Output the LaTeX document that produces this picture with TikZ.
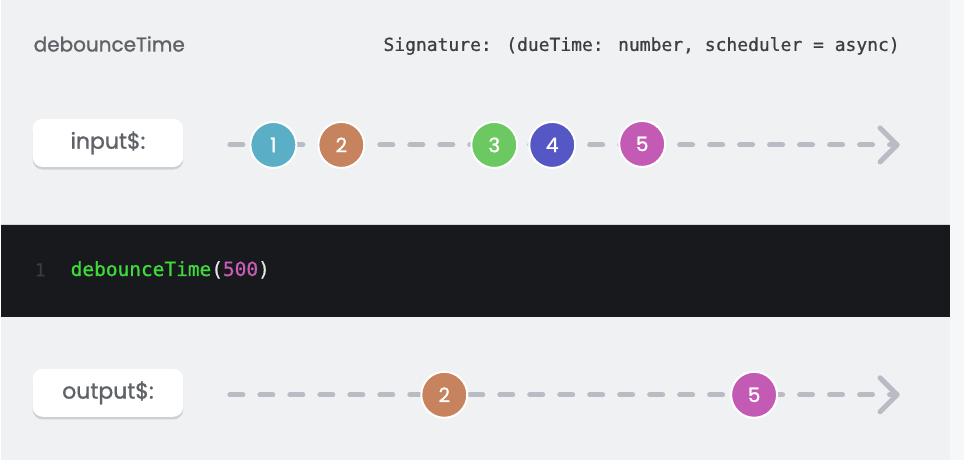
\documentclass[tikz,border=0pt]{standalone}
\usepackage{fontspec}
\setmainfont{Poppins}[FakeBold=1.2, AutoFakeBold=1.2]
\setmonofont{DejaVu Sans Mono}
\newfontfamily\codefont{DejaVu Sans Mono}[FakeBold=0.8]
\usetikzlibrary{arrows.meta}
\definecolor{bggray}{HTML}{EFF1F3}
\definecolor{edgegray}{HTML}{F6F7F8}
\definecolor{bargray}{HTML}{B9BCC4}
\definecolor{txtgray}{HTML}{5F6368}
\definecolor{sigtxt}{HTML}{3C4043}
\definecolor{codebg}{HTML}{18191D}
\definecolor{codegreen}{HTML}{3FDB3C}
\definecolor{codepink}{HTML}{C65DB6}
\definecolor{lineno}{HTML}{3A3C41}
\definecolor{mOne}{HTML}{5AAFC7}
\definecolor{mTwo}{HTML}{C7825E}
\definecolor{mThree}{HTML}{6CC860}
\definecolor{mFour}{HTML}{5558C4}
\definecolor{mFive}{HTML}{C35BB4}
\tikzset{
    tline/.style={line width=3.75pt, bargray, line cap=round, dash pattern=on 9.75pt off 12.75pt},
    chev/.style={line width=3.75pt, bargray, line cap=round, line join=round},
    namebox/.style={fill=white, rounded corners=7.5pt, minimum width=113pt, minimum height=36pt,
        text=txtgray, font=\fontsize{16.5}{16.5}\selectfont\bfseries,
        preaction={fill=bargray!70, transform canvas={yshift=-2pt}}},
    marble/.style={circle, draw=white, line width=1.5pt, minimum size=34.5pt, inner sep=0pt,
        text=white, font=\fontsize{15}{15}\selectfont\bfseries}
}

\begin{document}
\begin{tikzpicture}[x=0.75pt, y=-0.75pt]
    \fill[edgegray] (0,0) rectangle (964,460);
    \fill[bggray] (0,0) rectangle (950,460);
    \node[anchor=west, text=txtgray, font=\fontsize{15}{15}\selectfont\bfseries, inner sep=0pt] (title) at (33,44) {debounceTime};
    \node[anchor=east, text=sigtxt, font=\codefont\fontsize{13.5}{13.5}\selectfont, inner sep=0pt] (sig) at (900,46)
        {Signature: (dueTime: number, scheduler = async)};

    % input stream
    \node[namebox] (inbox) at (107.5,143) {input\$:};
    \coordinate (istart) at (229.5,145);
    \coordinate (iend) at (897,145);
    \draw[tline] (istart) -- (iend);
    \draw[chev] (iend) ++(-17,-17) -- (iend) -- ++(-17,17);
    \node[marble, fill=mOne] (in1) at (273,145) {1};
    \node[marble, fill=mTwo] (in2) at (341,145) {2};
    \node[marble, fill=mThree] (in3) at (494,145) {3};
    \node[marble, fill=mFour] (in4) at (552,145) {4};
    \node[marble, fill=mFive] (in5) at (642,144) {5};

    % operator
    \fill[codebg] (0,225) rectangle (950,317);
    \draw[bargray!60, line width=0.75pt] (0,224.5) -- (950,224.5);
    \node[anchor=west, text=lineno, font=\codefont\fontsize{13.5}{13.5}\selectfont, inner sep=0pt] (ln) at (34,270) {1};
    \node[anchor=west, font=\codefont\fontsize{14.6}{14.6}\selectfont, inner sep=0pt] (code) at (70,270)
        {\textcolor{codegreen}{debounceTime}\textcolor{white!90!black}{(}\textcolor{codepink}{500}\textcolor{white!90!black}{)}};

    % output stream
    \node[namebox] (outbox) at (107.5,393) {output\$:};
    \coordinate (ostart) at (229.5,395);
    \coordinate (oend) at (897,395);
    \draw[tline] (ostart) -- (oend);
    \draw[chev] (oend) ++(-17,-17) -- (oend) -- ++(-17,17);
    \node[marble, fill=mTwo] (out2) at (444,395) {2};
    \node[marble, fill=mFive] (out5) at (754,395) {5};
\end{tikzpicture}
\end{document}
